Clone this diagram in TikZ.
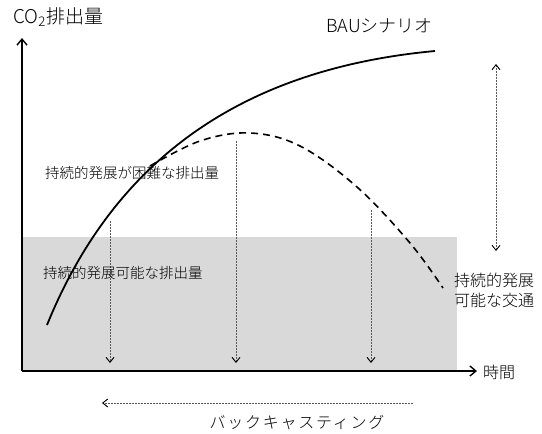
\documentclass[tikz,border=0pt]{standalone}
\usepackage{fontspec}
\setmainfont{Noto Sans CJK JP}[UprightFont={* Light}]
\usetikzlibrary{arrows.meta}
\begin{document}
\begin{tikzpicture}[x=1pt,y=-1pt,
  lbl/.style={inner sep=0pt,font=\fontsize{14.5}{17}\selectfont},
  axis/.style={line width=1.6pt,-{Straight Barb[length=6pt,width=10pt,line width=1.4pt]}},
  guide/.style={gray!70!black,line width=0.8pt,dash pattern=on 2pt off 1pt,-{Straight Barb[length=5pt,width=8pt,line width=0.9pt,color=black]}},
  guide2/.style={gray!70!black,line width=0.8pt,dash pattern=on 2pt off 1pt,{Straight Barb[length=5pt,width=8pt,line width=0.9pt,color=black]}-{Straight Barb[length=5pt,width=8pt,line width=0.9pt,color=black]}}]
\useasboundingbox (0,0) rectangle (542,434);
\fill[gray!30] (22,237) rectangle (457,371);
% axes
\coordinate (O) at (22,371);
\coordinate (Ytop) at (22,38);
\coordinate (Xend) at (477,371);
\draw[axis] (O) -- (Ytop);
\draw[axis] (O) -- (Xend);
% curves
\coordinate (s0) at (47,325);
\coordinate (s1) at (435,51);
\draw[line width=1.8pt] (s0) .. controls (110,170) and (230,70) .. (s1);
\draw[line width=1.6pt,dash pattern=on 7pt off 5pt] plot[smooth,tension=0.6] coordinates {(150,166) (200,141) (250,133) (300,146) (357,187) (410,243) (443,288)};
% guide arrows
\coordinate (a1) at (110,221); \coordinate (b1) at (110,363);
\coordinate (a2) at (236,141); \coordinate (b2) at (236,363);
\coordinate (a3) at (371,210); \coordinate (b3) at (371,363);
\draw[guide] (a1) -- (b1);
\draw[guide] (a2) -- (b2);
\draw[guide] (a3) -- (b3);
\coordinate (u1) at (496,64); \coordinate (u2) at (496,251);
\draw[guide2] (u1) -- (u2);
\coordinate (h1) at (413,403); \coordinate (h2) at (102,403);
\draw[guide] (h1) -- (h2);
% labels
\node[lbl,anchor=west,font=\fontsize{19}{22}\selectfont] (ylab) at (13,17) {CO\textsubscript{2}排出量};
\node[lbl,anchor=east,font=\fontsize{18}{21}\selectfont] (bau) at (433,26) {BAUシナリオ};
\node[lbl,anchor=west] (hard) at (45,173) {持続的発展が困難な排出量};
\node[lbl,anchor=west] (ok) at (43,273) {持続的発展可能な排出量};
\node[lbl,anchor=west,align=left,font=\fontsize{16}{20}\selectfont] (tr) at (454,290) {持続的発展\\可能な交通};
\node[lbl,anchor=west,font=\fontsize{16}{19}\selectfont] (time) at (483,372) {時間};
\node[lbl,font=\fontsize{16}{19}\selectfont\addfontfeature{LetterSpace=11}] (bc) at (297,423) {バックキャスティング};
\end{tikzpicture}
\end{document}
